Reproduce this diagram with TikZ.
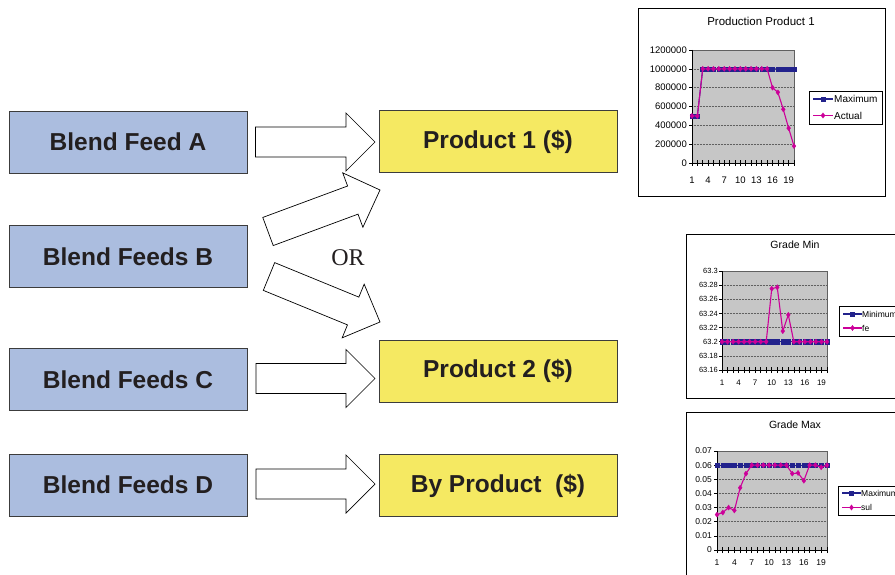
\documentclass[tikz,border=0pt]{standalone}
\usepackage{fontspec}
\setmainfont{Liberation Sans}
\newfontfamily\orfont{Liberation Serif}
\usetikzlibrary{calc,plotmarks}
\definecolor{feedblue}{HTML}{ABBDDF}
\definecolor{prodyellow}{HTML}{F5E962}
\definecolor{boxline}{HTML}{3C3C3C}
\definecolor{txt}{HTML}{231F20}
\definecolor{navy}{HTML}{22228C}
\definecolor{mag}{HTML}{CC0099}
\definecolor{plotgray}{HTML}{C6C6C6}
\definecolor{gridc}{HTML}{606060}

\newcommand\blockarrow[2]{%
  \coordinate (ba-h) at ($(#2)!29pt!(#1)$);
  \draw[blockarr] ($(#1)!15pt!90:(#2)$) -- ($(ba-h)!15pt!-90:(#1)$) -- ($(ba-h)!29pt!-90:(#1)$) -- (#2)
     -- ($(ba-h)!29pt!90:(#1)$) -- ($(ba-h)!15pt!90:(#1)$) -- ($(#1)!15pt!-90:(#2)$) -- cycle;}

\tikzset{
  feed/.style={draw=boxline, line width=0.8pt, fill=feedblue, minimum width=238pt, minimum height=62pt,
     inner sep=0pt, text=txt, font=\fontsize{24.5}{28}\selectfont\bfseries},
  prod/.style={feed, fill=prodyellow},
  blockarr/.style={draw=black, fill=white, line width=0.7pt, line join=miter},
  chartframe/.style={draw=black, line width=0.8pt, fill=white},
  gridl/.style={draw=gridc, densely dotted, line width=0.5pt},
  axisl/.style={draw=black, line width=0.6pt},
  maxser/.style={draw=navy, line width=1.1pt, mark=square*, mark size=2.1pt, mark options={fill=navy, draw=navy, solid, line width=0.3pt}},
  actser/.style={draw=mag, line width=1.1pt, mark=diamond*, mark size=2.6pt, mark options={fill=mag, draw=mag, solid, line width=0.3pt}},
  legbox/.style={draw=black, line width=0.6pt, fill=white},
}

\begin{document}
\begin{tikzpicture}[x=1pt, y=-1pt]
\useasboundingbox (0,0) rectangle (895,575);
\clip (0,0) rectangle (895,575);

% ---- boxes ----
\node[feed] (feedA) at (128,142) {Blend Feed A};
\node[feed] (feedB) at (128,256.5) {Blend Feeds B};
\node[feed] (feedC) at (128,379.5) {Blend Feeds C};
\node[feed] (feedD) at (128,485) {Blend Feeds D};
\node[prod] (prod1) at (498,141.5) {Product 1 (\$)};
\node[prod] (prod2) at (498,371) {Product 2 (\$)};
\node[prod] (byprod) at (498,485.5) {By Product~~(\$)};

\node[font=\orfont\fontsize{24}{28}\selectfont, text=txt] (or) at (348,258) {OR};

% ---- block arrows ----
\coordinate (aA1) at (255.5,142);  \coordinate (aA2) at (375,142);
\coordinate (aB1) at (268,231.5);  \coordinate (aB2) at (380,190);
\coordinate (aB3) at (269,276.5);  \coordinate (aB4) at (380,322);
\coordinate (aC1) at (256,378.5);  \coordinate (aC2) at (375,378.5);
\coordinate (aD1) at (256,484);    \coordinate (aD2) at (375,484);
\blockarrow{aA1}{aA2}
\blockarrow{aB1}{aB2}
\blockarrow{aB3}{aB4}
\blockarrow{aC1}{aC2}
\blockarrow{aD1}{aD2}

% ---- chart 1 ----
\draw[chartframe] (638,8) rectangle (885,196);
\node[font=\fontsize{11.5}{13}\selectfont] (c1title) at (761,21.5) {Production Product 1};
\begin{scope}[shift={(692,163)}, x=5.368pt, y=9.417pt]
  \fill[plotgray] (0,0) rectangle (19,12);
  \foreach \v in {2,4,...,10} \draw[gridl] (0,\v) -- (19,\v);
  \draw[draw=gridc, line width=0.5pt] (0,12) -- (19,12) -- (19,0);
  \draw[axisl] (0,12) -- (0,0) -- (19,0);
  \foreach \i in {0,...,19} \draw[axisl] (\i,0) ++(0,-3pt) -- ++(0,6pt);
  \foreach \v/\l in {0/0,2/200000,4/400000,6/600000,8/800000,10/1000000,12/1200000} {
    \draw[axisl] (0,\v) -- ++(-3pt,0);
    \node[anchor=east, font=\fontsize{9.5}{11}\selectfont, inner sep=0pt, xshift=-5pt] (c1y\v) at (0,\v) {\l};
  }
  \foreach \i/\l in {0/1,3/4,6/7,9/10,12/13,15/16,18/19}
    \node[font=\fontsize{9.5}{11}\selectfont, inner sep=0pt] (c1x\l) at (\i,0) [yshift=-17pt] {\l};
  \draw[maxser] plot coordinates {(0,5) (1,5) (2,10) (3,10) (4,10) (5,10) (6,10) (7,10) (8,10) (9,10) (10,10) (11,10) (12,10) (13,10) (14,10) (15,10) (16,10) (17,10) (18,10) (19,10)};
  \draw[actser] plot coordinates {(0,5) (1,5) (2,10) (3,10) (4,10) (5,10) (6,10) (7,10) (8,10) (9,10) (10,10) (11,10) (12,10) (13,10) (14,10) (15,8) (16,7.5) (17,5.7) (18,3.7) (19,1.8)};
\end{scope}
\draw[legbox] (809,91) rectangle (882,124);
\draw[maxser, mark=none] (813,99) -- (833,99);
\draw[maxser] plot coordinates {(823,99)};
\node[anchor=west, font=\fontsize{10}{12}\selectfont, inner sep=0pt] (c1l1) at (834,99) {Maximum};
\draw[actser, mark=none] (813,115.5) -- (833,115.5);
\draw[actser] plot coordinates {(823,115.5)};
\node[anchor=west, font=\fontsize{10}{12}\selectfont, inner sep=0pt] (c1l2) at (834,115.5) {Actual};

% ---- chart 2 ----
\draw[chartframe] (686,234) rectangle (905,398);
\node[font=\fontsize{10.5}{12}\selectfont] (c2title) at (795,245) {Grade Min};
\begin{scope}[shift={(722,370)}, x=5.526pt, y=7.071pt]
  \fill[plotgray] (0,0) rectangle (19,14);
  \foreach \v in {2,4,...,12} \draw[gridl] (0,\v) -- (19,\v);
  \draw[draw=gridc, line width=0.5pt] (0,14) -- (19,14) -- (19,0);
  \draw[axisl] (0,14) -- (0,0) -- (19,0);
  \foreach \i in {0,...,19} \draw[axisl] (\i,0) ++(0,-3pt) -- ++(0,6pt);
  \foreach \v/\l in {0/63.16,2/63.18,4/63.2,6/63.22,8/63.24,10/63.26,12/63.28,14/63.3} {
    \draw[axisl] (0,\v) -- ++(-3pt,0);
    \node[anchor=east, font=\fontsize{7.5}{9}\selectfont, inner sep=0pt, xshift=-4pt] (c2y\v) at (0,\v) {\l};
  }
  \foreach \i/\l in {0/1,3/4,6/7,9/10,12/13,15/16,18/19}
    \node[font=\fontsize{8}{10}\selectfont, inner sep=0pt] (c2x\l) at (\i,0) [yshift=-13pt] {\l};
  \draw[maxser] plot coordinates {(0,4) (1,4) (2,4) (3,4) (4,4) (5,4) (6,4) (7,4) (8,4) (9,4) (10,4) (11,4) (12,4) (13,4) (14,4) (15,4) (16,4) (17,4) (18,4) (19,4)};
  \draw[actser] plot coordinates {(0,4) (1,4) (2,4) (3,4) (4,4) (5,4) (6,4) (7,4) (8,4) (9,11.5) (10,11.7) (11,5.5) (12,7.8) (13,4) (14,4) (15,4) (16,4) (17,4) (18,4) (19,4)};
\end{scope}
\draw[legbox] (839,306) rectangle (905,336);
\draw[maxser, mark=none] (843,314) -- (862,314);
\draw[maxser] plot coordinates {(852.5,314)};
\node[anchor=west, font=\fontsize{8.5}{10}\selectfont, inner sep=0pt] (c2l1) at (862,314) {Minimum};
\draw[actser, mark=none] (843,328) -- (862,328);
\draw[actser] plot coordinates {(852.5,328)};
\node[anchor=west, font=\fontsize{8.5}{10}\selectfont, inner sep=0pt] (c2l2) at (862,328) {fe};

% ---- chart 3 ----
\draw[chartframe] (686,412) rectangle (905,590);
\node[font=\fontsize{10.5}{12}\selectfont] (c3title) at (795,425) {Grade Max};
\begin{scope}[shift={(717,550)}, x=5.789pt, y=14.14pt]
  \fill[plotgray] (0,0) rectangle (19,7);
  \foreach \v in {1,...,6} \draw[gridl] (0,\v) -- (19,\v);
  \draw[draw=gridc, line width=0.5pt] (0,7) -- (19,7) -- (19,0);
  \draw[axisl] (0,7) -- (0,0) -- (19,0);
  \foreach \i in {0,...,19} \draw[axisl] (\i,0) ++(0,-3pt) -- ++(0,6pt);
  \foreach \v/\l in {0/0,1/0.01,2/0.02,3/0.03,4/0.04,5/0.05,6/0.06,7/0.07} {
    \draw[axisl] (0,\v) -- ++(-3pt,0);
    \node[anchor=east, font=\fontsize{8.5}{10}\selectfont, inner sep=0pt, xshift=-5pt] (c3y\v) at (0,\v) {\l};
  }
  \foreach \i/\l in {0/1,3/4,6/7,9/10,12/13,15/16,18/19}
    \node[font=\fontsize{8.5}{10}\selectfont, inner sep=0pt] (c3x\l) at (\i,0) [yshift=-13pt] {\l};
  \draw[maxser] plot coordinates {(0,6) (1,6) (2,6) (3,6) (4,6) (5,6) (6,6) (7,6) (8,6) (9,6) (10,6) (11,6) (12,6) (13,6) (14,6) (15,6) (16,6) (17,6) (18,6) (19,6)};
  \draw[actser] plot coordinates {(0,2.5) (1,2.65) (2,3.0) (3,2.8) (4,4.4) (5,5.4) (6,6) (7,6) (8,6) (9,6) (10,6) (11,6) (12,6) (13,5.4) (14,5.45) (15,4.9) (16,6) (17,6) (18,5.85) (19,6)};
\end{scope}
\draw[legbox] (838,486) rectangle (905,515);
\draw[maxser, mark=none] (842,493) -- (861,493);
\draw[maxser] plot coordinates {(851.5,493)};
\node[anchor=west, font=\fontsize{8.5}{10}\selectfont, inner sep=0pt] (c3l1) at (861,493) {Maximum};
\draw[actser, mark=none] (842,507.5) -- (861,507.5);
\draw[actser] plot coordinates {(851.5,507.5)};
\node[anchor=west, font=\fontsize{8.5}{10}\selectfont, inner sep=0pt] (c3l2) at (861,507.5) {sul};
\end{tikzpicture}
\end{document}
